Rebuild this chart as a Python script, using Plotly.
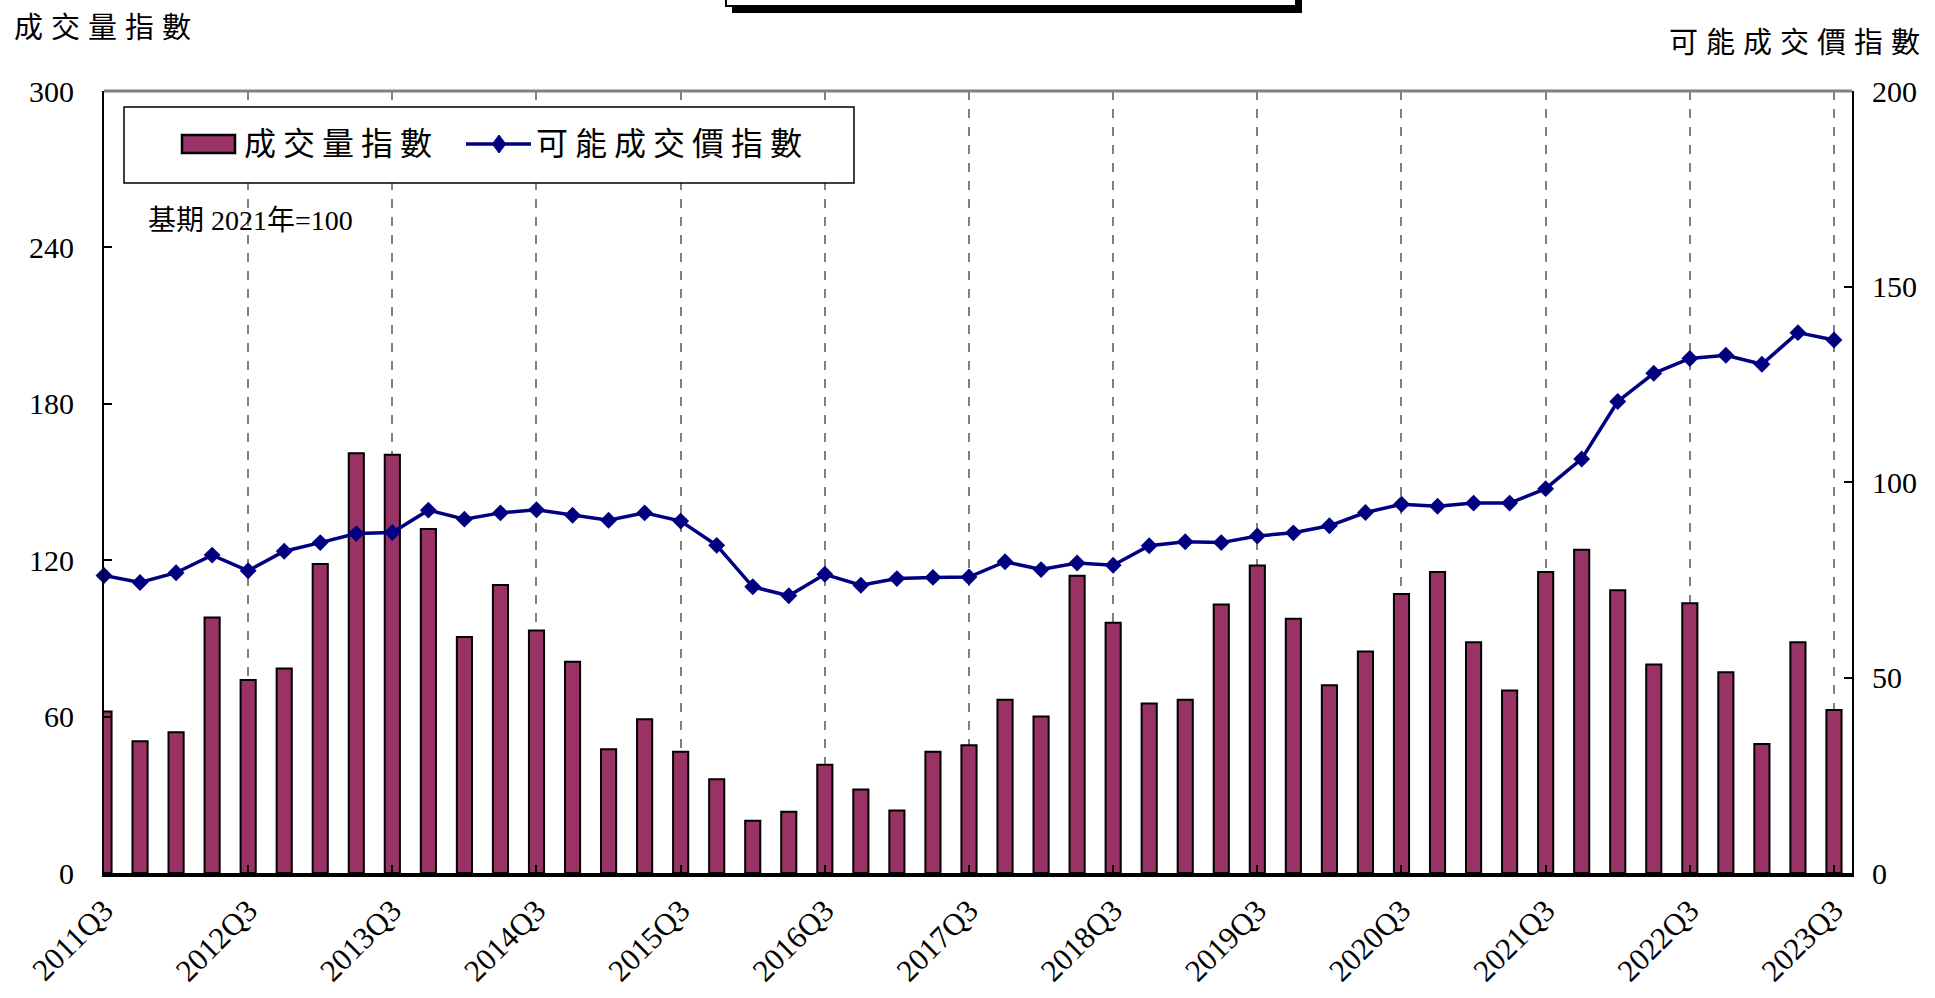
import plotly.graph_objects as go

quarters = [f"{y}Q{q}" for y in range(2011, 2024) for q in range(1, 5)]
quarters = quarters[2:2 + 49]  # 2011Q3 .. 2023Q3

volume_index = [62, 50.5, 54, 98, 74, 78.5, 118.5, 161, 160.5, 132, 90.5, 110.5, 93, 81, 47.5, 59, 46.5,
                36, 20, 23.5, 41.5, 32, 24, 46.5, 49, 66.5, 60, 114, 96, 65, 66.5, 103, 118, 97.5, 72,
                85, 107, 115.5, 88.5, 70, 115.5, 124, 108.5, 80, 103.5, 77, 49.5, 88.5, 62.5]
price_index = [76.1, 74.3, 76.8, 81.3, 77.3, 82.3, 84.5, 86.8, 87.1, 92.8, 90.5, 92.1, 92.9, 91.5, 90.2, 92.1, 90.0,
               83.8, 73.2, 70.9, 76.4, 73.6, 75.3, 75.6, 75.7, 79.6, 77.6, 79.3, 78.7, 83.7, 84.7, 84.5, 86.2, 87.0, 88.8,
               92.2, 94.3, 93.8, 94.6, 94.6, 98.3, 105.9, 120.6, 127.8, 131.6, 132.4, 130.1, 138.2, 136.3]

left_ticks = [0, 60, 120, 180, 240, 300]
right_ticks = [0, 50, 100, 150, 200]
label_every = 4

x = list(range(len(quarters)))
tick_pos = x[::label_every]
tick_txt = quarters[::label_every]

FONT = "Liberation Serif, Noto Sans CJK TC, serif"
BAR_COLOR = "#993366"
LINE_COLOR = "#000080"

W, H = 1935, 998
# plot area in page pixels
L, R, T, B = 104, 1852, 91, 873
pw, ph = R - L, B - T
def px(xp): return (xp - L) / pw
def py(yp): return (B - yp) / ph

fig = go.Figure()
fig.add_trace(go.Bar(
    x=x, y=volume_index, name="成交量指數",
    marker=dict(color=BAR_COLOR, line=dict(color="black", width=2)),
    width=0.42, yaxis="y", showlegend=False,
))
fig.add_trace(go.Scatter(
    x=x, y=price_index, name="可能成交價指數", yaxis="y2",
    mode="lines+markers", line=dict(color=LINE_COLOR, width=3.5),
    marker=dict(symbol="diamond", size=13, color=LINE_COLOR),
    cliponaxis=False, showlegend=False,
))

# legend geometry (page px)
lg_x0, lg_x1, lg_y0, lg_y1 = 124, 854, 107, 183
lg_cy = 144
sw_x0, sw_x1, sw_y0, sw_y1 = 182, 235, 135, 153
ln_x0, ln_x1, dm_cx, dm_r = 466, 531, 499, 9

def diamond_path(cx, cy, r):
    pts = [(cx, cy - r), (cx + r * 0.75, cy), (cx, cy + r), (cx - r * 0.75, cy)]
    return "M " + " L ".join(f"{px(a)} {py(b)}" for a, b in pts) + " Z"

shapes = [
    # gray top border
    dict(type="line", xref="paper", yref="paper", x0=0, x1=1, y0=1, y1=1,
         line=dict(color="#808080", width=3), layer="above"),
    # partially visible title box with shadow at top
    dict(type="rect", xref="paper", yref="paper", x0=px(732), x1=px(1302), y0=py(13), y1=py(-20),
         fillcolor="black", line=dict(width=0)),
    dict(type="rect", xref="paper", yref="paper", x0=px(726), x1=px(1296), y0=py(6), y1=py(-20),
         fillcolor="white", line=dict(color="black", width=2)),
    # legend box
    dict(type="rect", xref="paper", yref="paper", x0=px(lg_x0), x1=px(lg_x1), y0=py(lg_y1), y1=py(lg_y0),
         fillcolor="white", line=dict(color="black", width=1.5), layer="above"),
    dict(type="rect", xref="paper", yref="paper", x0=px(sw_x0), x1=px(sw_x1), y0=py(sw_y1), y1=py(sw_y0),
         fillcolor=BAR_COLOR, line=dict(color="black", width=2.5), layer="above"),
    dict(type="line", xref="paper", yref="paper", x0=px(ln_x0), x1=px(ln_x1), y0=py(lg_cy), y1=py(lg_cy),
         line=dict(color=LINE_COLOR, width=3.5), layer="above"),
    dict(type="path", xref="paper", yref="paper", path=diamond_path(dm_cx, lg_cy, dm_r),
         fillcolor=LINE_COLOR, line=dict(color=LINE_COLOR, width=1), layer="above"),
]

def spaced(t, sp):
    return f'<span style="letter-spacing:{sp}px">{t}</span>'

annotations = [
    dict(text=spaced("成交量指數", 8), xref="paper", yref="paper", x=px(12), y=py(28), xanchor="left", yanchor="middle",
         showarrow=False, font=dict(family=FONT, size=29, color="black")),
    dict(text=spaced("可能成交價指數", 8), xref="paper", yref="paper", x=px(1930), y=py(43), xanchor="right", yanchor="middle",
         showarrow=False, font=dict(family=FONT, size=29, color="black")),
    dict(text="基期 2021年=100", xref="paper", yref="paper", x=px(146), y=py(221), xanchor="left", yanchor="middle",
         showarrow=False, font=dict(family=FONT, size=28, color="black")),
    dict(text=spaced("成交量指數", 7), xref="paper", yref="paper", x=px(242), y=py(lg_cy), xanchor="left", yanchor="middle",
         showarrow=False, font=dict(family=FONT, size=32, color="black")),
    dict(text=spaced("可能成交價指數", 7), xref="paper", yref="paper", x=px(534), y=py(lg_cy), xanchor="left", yanchor="middle",
         showarrow=False, font=dict(family=FONT, size=32, color="black")),
]

fig.update_layout(
    width=W, height=H,
    margin=dict(l=L, r=W - R, t=T, b=H - B, autoexpand=False),
    paper_bgcolor="white", plot_bgcolor="white",
    font=dict(family=FONT, size=30, color="black"),
    showlegend=False,
    xaxis=dict(range=[0, 48.5], tickmode="array", tickvals=tick_pos, ticktext=tick_txt,
               tickangle=-45, showgrid=True, gridcolor="#808080", griddash="dash", gridwidth=2,
               showline=True, linecolor="black", linewidth=4, ticks="inside", ticklen=8,
               tickcolor="black", tickwidth=2, zeroline=False, ticklabelstandoff=3,
               tickfont=dict(family=FONT, size=31)),
    yaxis=dict(range=[0, 300], tickvals=left_ticks, showgrid=False, zeroline=False,
               showline=True, linecolor="black", linewidth=2, ticks="inside", ticklen=8,
               tickcolor="black", tickwidth=2, ticklabelstandoff=22,
               tickfont=dict(family=FONT, size=30)),
    yaxis2=dict(range=[0, 200], tickvals=right_ticks, overlaying="y", side="right",
                showgrid=False, zeroline=False, showline=True, linecolor="black", linewidth=2,
                ticks="inside", ticklen=8, tickcolor="black", tickwidth=2, ticklabelstandoff=12,
                tickfont=dict(family=FONT, size=30)),
    shapes=shapes, annotations=annotations,
)

fig.write_html("out.html", config={"displayModeBar": False},
               post_script="document.body.style.margin='0';document.documentElement.style.overflow='hidden';")
